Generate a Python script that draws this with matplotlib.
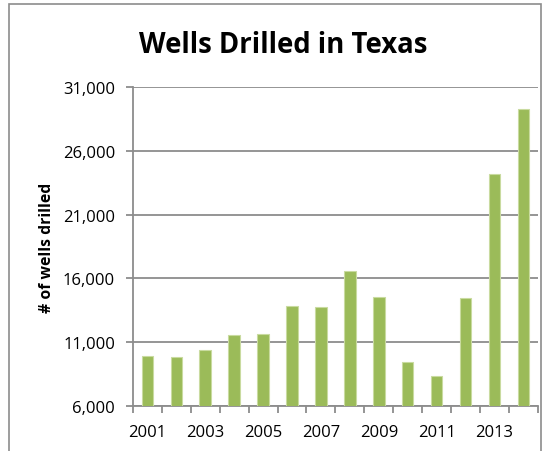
import matplotlib
matplotlib.use('Agg')
import matplotlib.pyplot as plt
from matplotlib.patches import Rectangle
from matplotlib.ticker import FuncFormatter
import numpy as np

# data
years = [2001, 2002, 2003, 2004, 2005, 2006, 2007,
         2008, 2009, 2010, 2011, 2012, 2013, 2014]
wells = [9950, 9830, 10380, 11550, 11670, 13810, 13730,
         16550, 14520, 9440, 8340, 14460, 24150, 29300]
y_ticks = [6000, 11000, 16000, 21000, 26000, 31000]

plt.rcParams['font.family'] = ['Open Sans', 'DejaVu Sans']

fig = plt.figure(figsize=(5.5, 4.52), dpi=100)
ax = fig.add_axes([0.2418, 0.0996, 0.736, 0.7057])

x = np.arange(len(years))
ax.bar(x, wells, width=0.4, bottom=0, color='#9BBB59', edgecolor='#C9DBA0', linewidth=0.8, zorder=3)

ax.set_ylim(6000, 31000)
ax.set_xlim(-0.5, len(years) - 0.5)
ax.set_yticks(y_ticks)
ax.yaxis.set_major_formatter(FuncFormatter(lambda v, p: f'{int(v):,}'))
ax.grid(axis='y', color='#8C8C8C', linewidth=1.3, zorder=0)
ax.tick_params(axis='y', length=5, color='#8C8C8C', width=1.3, labelsize=12, pad=8)

# category ticks between bars, labels on every other year
ax.set_xticks(x[::2])
ax.set_xticklabels([str(y) for y in years[::2]])
ax.set_xticks(np.arange(-0.5, len(years)), minor=True)
ax.tick_params(axis='x', which='major', length=0, labelsize=12, pad=13)
ax.tick_params(axis='x', which='minor', length=5, color='#8C8C8C', width=1.3)

for side in ['top', 'right']:
    ax.spines[side].set_visible(False)
for side in ['left', 'bottom']:
    ax.spines[side].set_color('#8C8C8C')
    ax.spines[side].set_linewidth(1.3)

ax.set_ylabel('# of wells drilled', fontsize=11.3, fontweight='bold', va='center')
ax.yaxis.set_label_coords(-0.212, 0.5)
fig.text(0.515, 0.9, 'Wells Drilled in Texas', ha='center', va='center',
         fontsize=19.8, fontweight='bold')

# outer chart border
fig.patches.append(Rectangle((9 / 550, -0.1), 532 / 550, 1.1 - 5 / 452, transform=fig.transFigure,
                             fill=False, edgecolor='#8C8C8C', linewidth=1.2))

fig.savefig('out.png', dpi=100)
